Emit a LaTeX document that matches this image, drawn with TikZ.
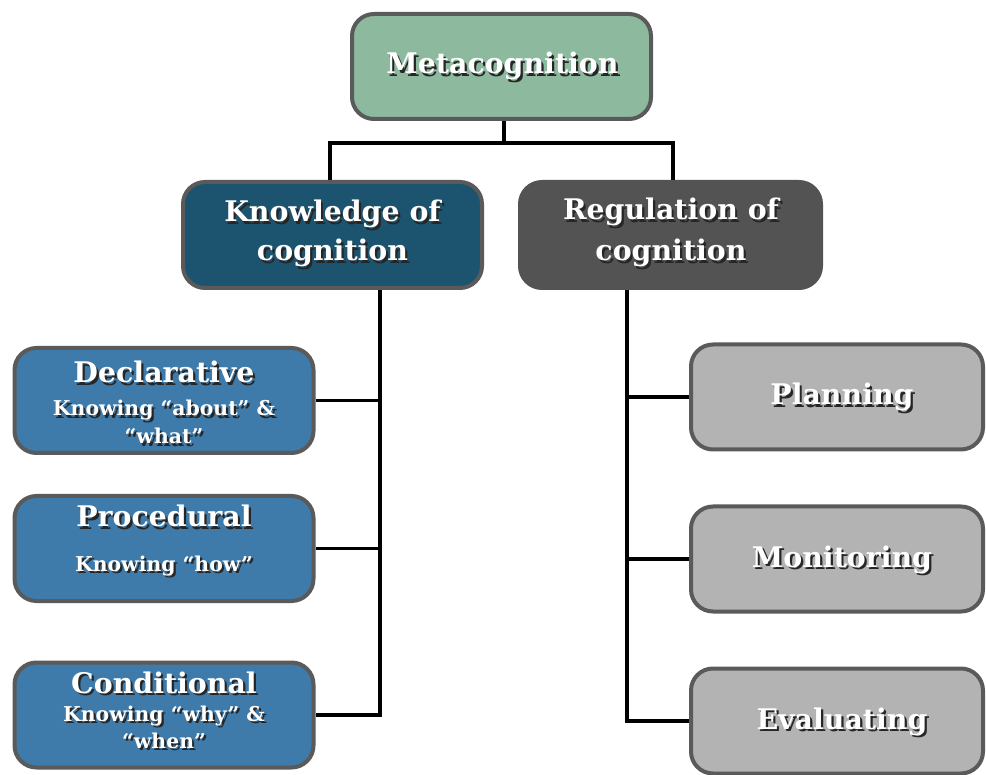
\documentclass[tikz,border=0pt]{standalone}
\usepackage{fontspec}
\setmainfont{DejaVu Serif}
% white lettering with a dark drop shadow set just behind it
\newcommand\shadowed[1]{%
  \rlap{\kern2.2pt\raisebox{-2.2pt}{\color{black!85}#1}}#1}
\begin{document}
\begin{tikzpicture}[x=1pt,y=-1pt,
  box/.style={draw=edgegray,line width=4pt,rounded corners=22pt,
    minimum width=299pt,minimum height=105pt,inner sep=0pt},
  wire/.style={line width=3.2pt,black},
  lbl/.style={anchor=base,inner sep=0pt,outer sep=0pt,text=white},
  big/.style={font=\fontsize{28.4pt}{32pt}\selectfont\bfseries},
  small/.style={font=\fontsize{20.4pt}{24pt}\selectfont\bfseries}]
\definecolor{edgegray}{HTML}{5A5A5A}
\definecolor{metagreen}{HTML}{8DBA9F}
\definecolor{knowteal}{HTML}{1C546F}
\definecolor{reggray}{HTML}{535353}
\definecolor{kindblue}{HTML}{3E7BAA}
\definecolor{stepgray}{HTML}{B3B3B3}
\useasboundingbox (0,0) rectangle (986,775);
\clip (0,0) rectangle (986,775);

% boxes
\node[box,fill=metagreen] (meta) at (501.5,66.5) {};
\node[box,fill=knowteal,minimum height=106pt] (know) at (332.5,235) {};
\node[box,fill=reggray,draw=reggray,minimum width=301pt,minimum height=106pt] (reg) at (670.5,235) {};
\node[box,fill=kindblue] (decl) at (164,400.5) {};
\node[box,fill=kindblue] (proc) at (164,548.5) {};
\node[box,fill=kindblue] (cond) at (164,715) {};
\node[box,fill=stepgray,minimum width=292pt] (plan) at (837,397) {};
\node[box,fill=stepgray,minimum width=292pt] (mon) at (837,559) {};
\node[box,fill=stepgray,minimum width=292pt] (eval) at (837,721) {};

% connectors
\coordinate (j) at (504,143);
\coordinate (kx) at (380,0);
\coordinate (rx) at (627,0);
\coordinate (jl) at (330,0);
\coordinate (jr) at (673,0);
\draw[wire] (meta.south -| j) -- (j);
\draw[wire] (jl |- know.north) |- (j) -| (jr |- reg.north);
\draw[wire] (kx |- know.south) -- (kx |- cond.east) -- (cond.east);
\draw[wire] (decl.east) -- (decl.east -| kx);
\draw[wire] (proc.east) -- (proc.east -| kx);
\draw[wire] (rx |- reg.south) -- (rx |- eval.west) -- (eval.west);
\draw[wire] (plan.west) -- (plan.west -| rx);
\draw[wire] (mon.west) -- (mon.west -| rx);

% labels
\node[lbl,big] (metaT) at (502.5,74) {\shadowed{Metacognition}};
\node[lbl,big] (knowT1) at (332.5,222) {\shadowed{Knowledge of}};
\node[lbl,big] (knowT2) at (332.5,261) {\shadowed{cognition}};
\node[lbl,big] (regT1) at (671,220) {\shadowed{Regulation of}};
\node[lbl,big] (regT2) at (671,261) {\shadowed{cognition}};
\node[lbl,big] (declT) at (164,383) {\shadowed{Declarative}};
\node[lbl,small] (declS1) at (164,416) {\shadowed{Knowing “about” \&}};
\node[lbl,small] (declS2) at (164,444) {\shadowed{“what”}};
\node[lbl,big] (procT) at (164,527) {\shadowed{Procedural}};
\node[lbl,small] (procS) at (164,571) {\shadowed{Knowing “how”}};
\node[lbl,big] (condT) at (164,693) {\shadowed{Conditional}};
\node[lbl,small] (condS1) at (164,721) {\shadowed{Knowing “why” \&}};
\node[lbl,small] (condS2) at (164,748) {\shadowed{“when”}};
\node[lbl,big] (planT) at (842,405) {\shadowed{Planning}};
\node[lbl,big] (monT) at (842,567) {\shadowed{Monitoring}};
\node[lbl,big] (evalT) at (842,729) {\shadowed{Evaluating}};
\end{tikzpicture}
\end{document}
